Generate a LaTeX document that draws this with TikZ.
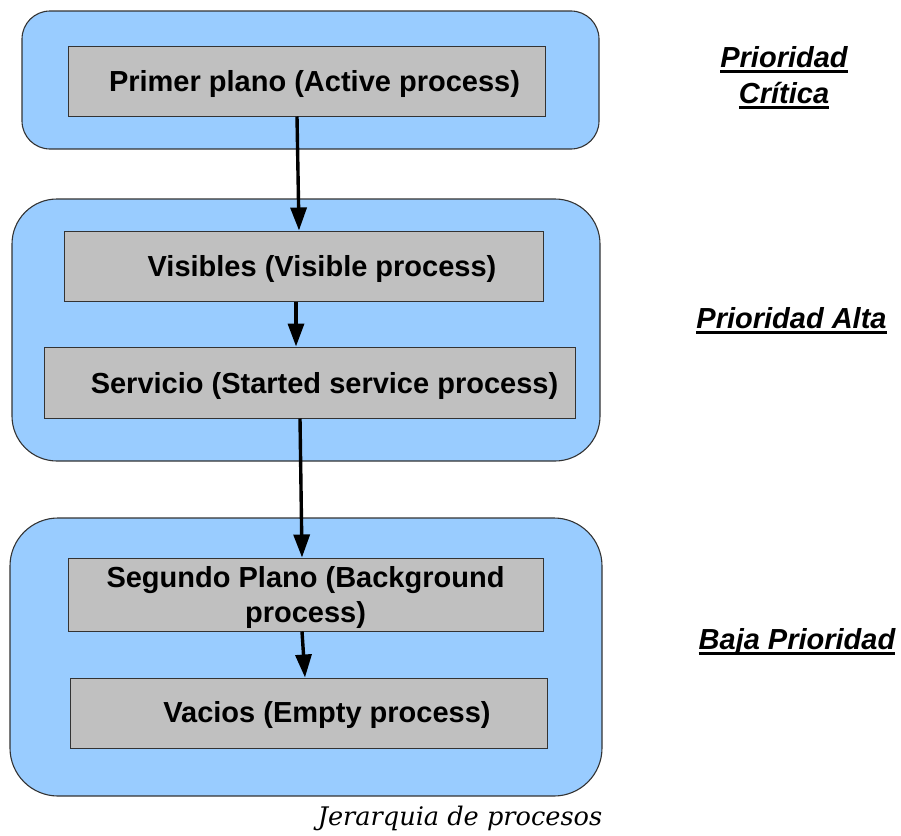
\documentclass[tikz,border=0pt]{standalone}
\usepackage{fontspec}
\setmainfont{Liberation Sans}
\newfontfamily\capfont{DejaVu Serif}
\usetikzlibrary{arrows.meta}
\definecolor{boxblue}{HTML}{99CCFF}
\definecolor{boxgray}{HTML}{C0C0C0}
\definecolor{edge}{HTML}{333333}
\newcommand\ulbar[1]{\setbox0=\hbox{#1}\rlap{\rule[-5.5pt]{\wd0}{2.2pt}}\box0}
\tikzset{
  bluebox/.style={draw=edge, line width=1.1pt, fill=boxblue, inner sep=0pt},
  graybox/.style={draw=edge, line width=1pt, fill=boxgray, inner sep=0pt},
  boxtext/.style={anchor=base, inner sep=0pt, font=\fontsize{29}{35}\selectfont\bfseries, align=center},
  prio/.style={anchor=base, inner sep=0pt, font=\fontsize{29}{36}\selectfont\bfseries\itshape, align=center},
  arr/.style={line width=3.4pt, -{Triangle[length=23pt,width=16pt]}}
}
\begin{document}
\begin{tikzpicture}[x=1pt,y=-1pt]
\useasboundingbox (0,0) rectangle (901,835);
% priority groups
\node[bluebox, minimum width=577pt, minimum height=138pt, rounded corners=28pt] (b1) at (310.5,80) {};
\node[bluebox, minimum width=588pt, minimum height=262pt, rounded corners=45pt] (b2) at (306,330) {};
\node[bluebox, minimum width=592pt, minimum height=278pt, rounded corners=48pt] (b3) at (306,657) {};
% process boxes
\node[graybox, minimum width=477pt, minimum height=70pt] (g1) at (306.5,81) {};
\node[graybox, minimum width=479pt, minimum height=70pt] (g2) at (303.5,266) {};
\node[graybox, minimum width=531pt, minimum height=71pt] (g3) at (309.5,382.5) {};
\node[graybox, minimum width=475pt, minimum height=73pt] (g4) at (305.5,594.5) {};
\node[graybox, minimum width=477pt, minimum height=70pt] (g5) at (308.5,713) {};
% texts
\node[boxtext] (t1) at (314.5,91.4) {Primer plano (Active process)};
\node[boxtext] (t2) at (322,276.4) {Visibles (Visible process)};
\node[boxtext] (t3) at (324.5,393) {Servicio (Started service process)};
\node[boxtext] (t4) at (305.5,622) {Segundo Plano (Background\\process)};
\node[boxtext] (t5) at (327,722.5) {Vacios (Empty process)};
% arrows
\draw[arr] ([xshift=-9.5pt]g1.south) -- ([xshift=-4.5pt]g2.north);
\draw[arr] ([xshift=-7.5pt]g2.south) -- ([xshift=-13.5pt]g3.north);
\draw[arr] ([xshift=-9.5pt]g3.south) -- ([xshift=-3.5pt]g4.north);
\draw[arr] ([xshift=-3.5pt]g4.south) -- ([xshift=-3.5pt]g5.north);
% priority labels
\node[prio] (p1) at (784,103) {\ulbar{Prioridad}\\\ulbar{Crítica}};
\node[prio] (p2) at (791.5,328) {\ulbar{Prioridad Alta}};
\node[prio] (p3) at (797,649) {\ulbar{Baja Prioridad}};
% caption
\node[anchor=base, inner sep=0pt, font=\capfont\itshape\fontsize{25.6}{30}\selectfont] (cap) at (460,825) {Jerarquia de procesos};
\end{tikzpicture}
\end{document}
